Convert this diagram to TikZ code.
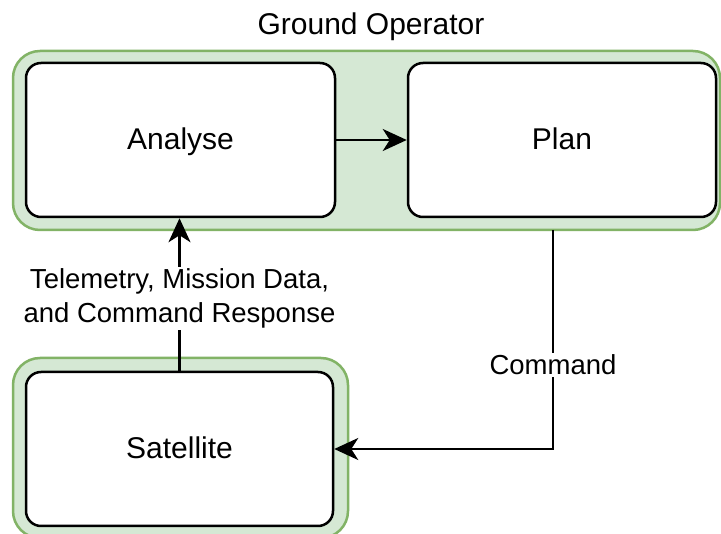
\documentclass[tikz,border=0pt]{standalone}
\usepackage{fontspec}
\setmainfont{Liberation Sans}
\usetikzlibrary{arrows.meta}
\definecolor{grpfill}{HTML}{D5E8D4}
\definecolor{grpline}{HTML}{82B366}
\begin{document}
\begin{tikzpicture}[x=1pt,y=-1pt,
  grp/.style={draw=grpline,fill=grpfill,line width=2.5pt,rounded corners=27pt,rectangle,inner sep=0pt},
  stepbox/.style={draw=black,fill=white,line width=2.5pt,rounded corners=15pt,rectangle,inner sep=0pt,
    minimum height=154pt,text height=21.5pt,text depth=1.5pt,font=\fontsize{30}{36}\selectfont},
  arr/.style={line width=2.5pt,-{Stealth[length=24pt,width=22pt,inset=7pt]}},
  lbl/.style={fill=white,inner sep=2pt,align=center,font=\fontsize{27.5}{34}\selectfont},
  ttl/.style={inner sep=0pt,anchor=base,font=\fontsize{30}{36}\selectfont}]
\useasboundingbox (0,0) rectangle (721,534);
\clip (0,0) rectangle (721,534);
\fill[white] (0,0) rectangle (721,534);
% groups
\node[grp,minimum width=707pt,minimum height=179pt] (gop) at (366.5,140.5) {};
\node[grp,minimum width=335pt,minimum height=180pt] (satg) at (180.5,448) {};
\node[ttl] (title) at (371,35) {Ground Operator};
% boxes
\node[stepbox,minimum width=309pt] (ana) at (180.5,140) {Analyse};
\node[stepbox,minimum width=308pt] (plan) at (562,140) {Plan};
\node[stepbox,minimum width=307pt] (sat) at (179.5,449) {Satellite};
% connectors
\draw[arr] (ana) -- (plan);
\draw[arr] (sat.north) -- node[lbl,yshift=-4pt]{Telemetry, Mission Data,\\and Command Response} (sat.north |- ana.south);
\coordinate (cmdstart) at (553,230);
\draw[arr] (cmdstart) -- node[lbl,pos=0.607,yshift=-2pt]{Command} (cmdstart |- sat.east) -- (sat.east);
\end{tikzpicture}
\end{document}
